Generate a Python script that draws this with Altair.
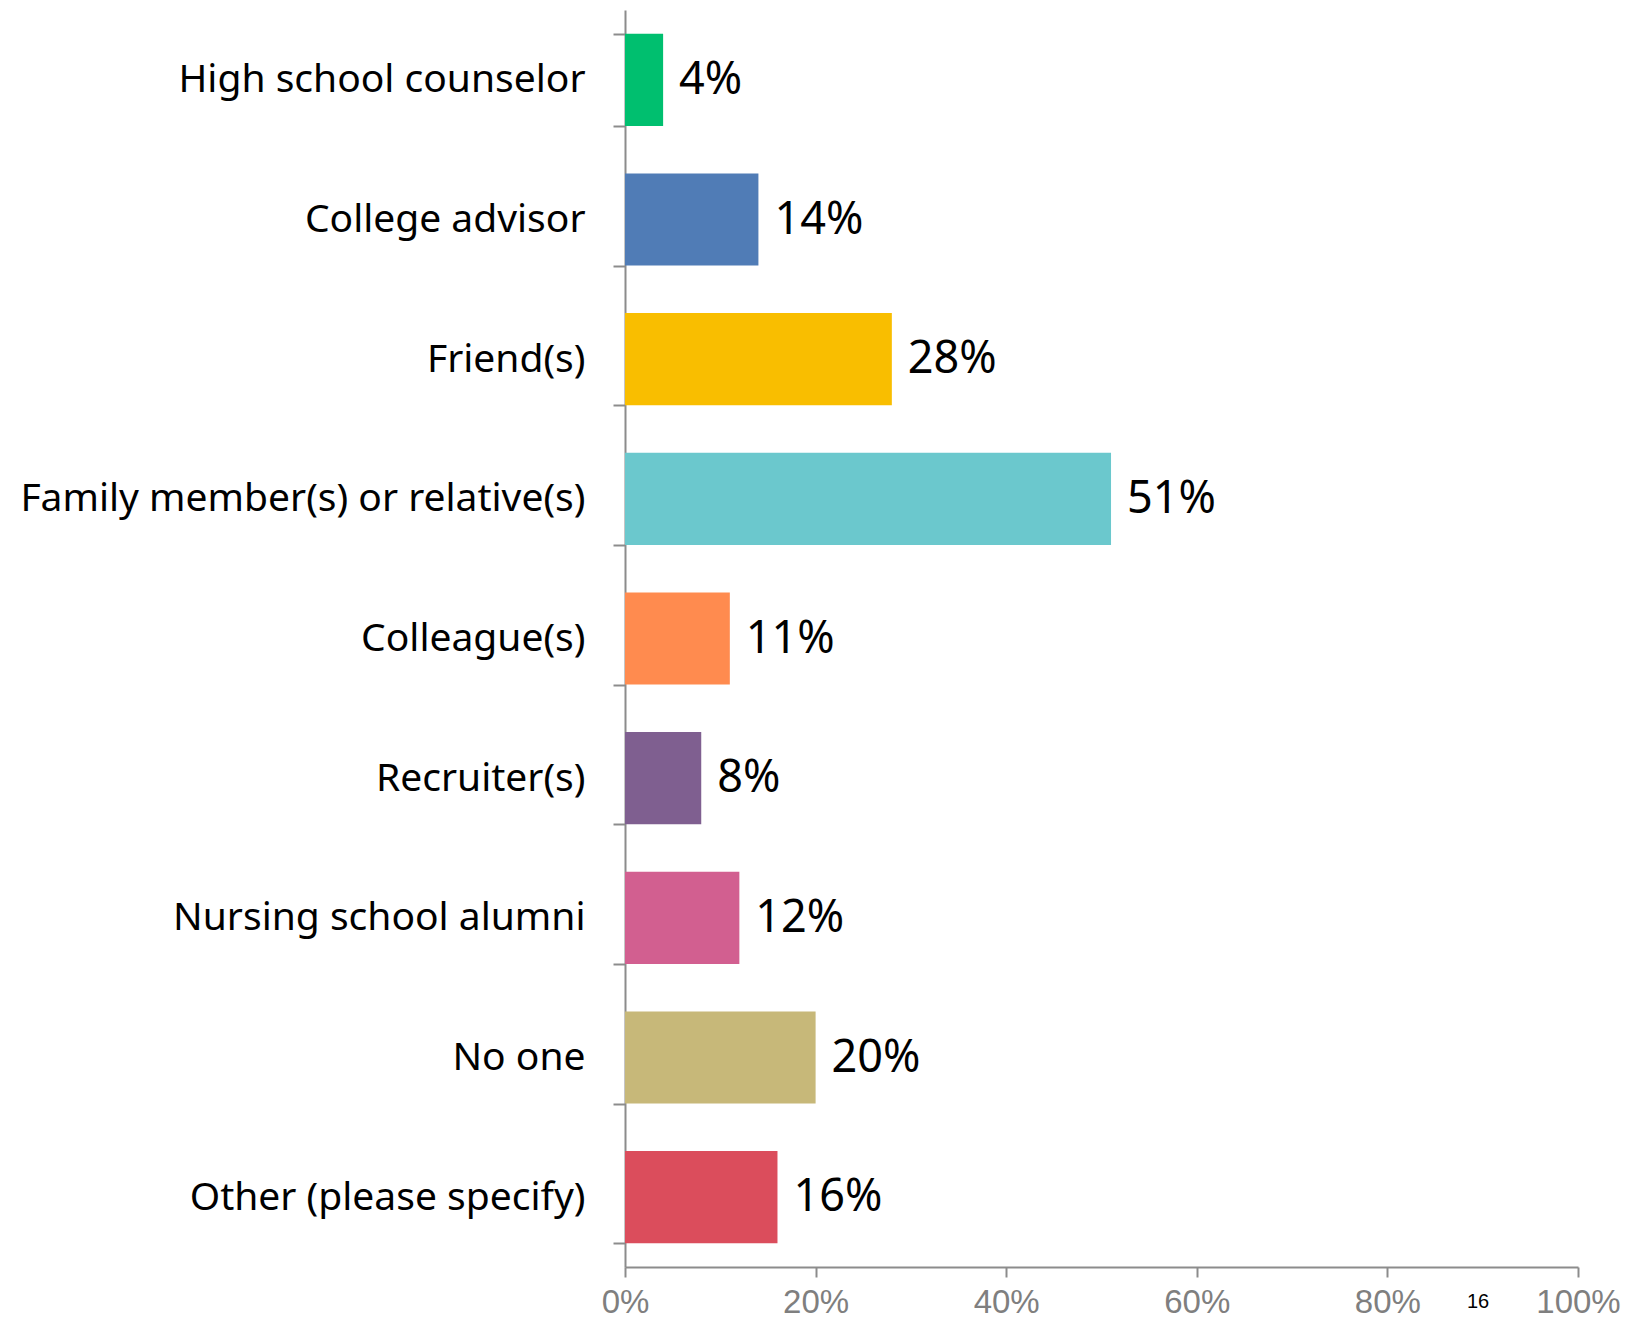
import altair as alt
import pandas as pd

categories = ["High school counselor", "College advisor", "Friend(s)",
              "Family member(s) or relative(s)", "Colleague(s)", "Recruiter(s)",
              "Nursing school alumni", "No one", "Other (please specify)"]
values = [0.04, 0.14, 0.28, 0.51, 0.11, 0.08, 0.12, 0.20, 0.16]
colors = ["#00BF6F", "#507CB6", "#F9BE00", "#6BC8CD", "#FF8B4F",
          "#7F5F90", "#D25F90", "#C7B879", "#DB4D5C"]
x_ticks = [0, 0.2, 0.4, 0.6, 0.8, 1.0]
page_number = "16"

df = pd.DataFrame({"cat": categories, "val": values, "color": colors,
                   "label": [f"{round(v*100)}%" for v in values]})

y_enc = alt.Y("cat:N", sort=categories,
              scale=alt.Scale(paddingInner=0.34, paddingOuter=0.17),
              axis=alt.Axis(title=None, tickBand="extent", domainColor="#8C8C8C",
                            domainWidth=2, tickColor="#8C8C8C", tickWidth=2, tickSize=12,
                            labelFont="Noto Sans", labelFontSize=39, labelColor="#000000",
                            labelPadding=28, labelLimit=700))
x_enc = alt.X("val:Q", scale=alt.Scale(domain=[0, 1], nice=False),
              axis=alt.Axis(title=None, values=x_ticks, format=".0%", grid=False,
                            domainColor="#8C8C8C", domainWidth=2, tickColor="#8C8C8C",
                            tickWidth=2, tickSize=10, labelFont="Liberation Sans",
                            labelFontSize=33, labelColor="#7F7F7F", labelPadding=9,
                            labelFlush=False))

bars = alt.Chart(df).mark_bar().encode(
    x=x_enc, y=y_enc,
    color=alt.Color("color:N", scale=None),
)

labels = alt.Chart(df).mark_text(align="left", baseline="middle", dx=16,
                                 font="Noto Sans", fontSize=45, color="#000000").encode(
    x="val:Q", y=alt.Y("cat:N", sort=categories), text="label:N")

pn = alt.Chart(pd.DataFrame({"t": [page_number]})).mark_text(
    font="Liberation Sans", fontSize=20, color="#000000", align="center", baseline="middle"
).encode(x=alt.value(853), y=alt.value(1292), text="t:N")

chart = alt.layer(bars, labels, pn).properties(
    width=953, height=1257,
    autosize=alt.AutoSizeParams(type="none"),
    padding={"left": 617, "top": 2, "right": 56, "bottom": 56},
).configure_view(stroke=None)

chart.save("out.html", embed_options={"renderer": "svg", "actions": False})
